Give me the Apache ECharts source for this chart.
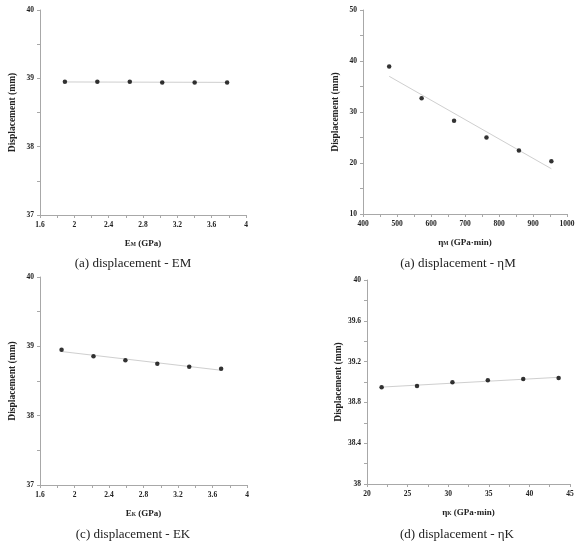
<!DOCTYPE html>
<html><head><meta charset="utf-8">
<script src="https://cdn.jsdelivr.net/npm/echarts@6/dist/echarts.min.js"></script>
<style>html,body{margin:0;padding:0;background:#fff}#c{width:580px;height:550px}</style>
</head><body><div id="c"></div>
<script>
// Panel (a) displacement - EM
const emX = [1.89, 2.268, 2.646, 3.024, 3.402, 3.78];
const emY = [38.95, 38.95, 38.95, 38.94, 38.94, 38.94];
const emFit = [[1.89, 38.947], [3.78, 38.941]];
// Panel (a) displacement - ηM
const etaMX = [477, 572.4, 667.8, 763.2, 858.6, 954];
const etaMY = [38.94, 32.72, 28.27, 24.99, 22.44, 20.34];
const etaMFit = [[477, 37.0], [954, 18.87]];
// Panel (c) displacement - EK
const ekX = [1.85, 2.22, 2.59, 2.96, 3.33, 3.70];
const ekY = [38.949, 38.858, 38.80, 38.747, 38.704, 38.675];
const ekFit = [[1.85, 38.925], [3.70, 38.655]];
// Panel (d) displacement - ηK
const etaKX = [21.8, 26.16, 30.52, 34.88, 39.24, 43.6];
const etaKY = [38.948, 38.961, 38.997, 39.016, 39.029, 39.039];
const etaKFit = [[21.8, 38.950], [43.6, 39.046]];

const captions = ['(a) displacement - EM', '(a) displacement - \u03B7M', '(c) displacement - EK', '(d) displacement - \u03B7K'];
const xNames = ['E{s|M} (GPa)', '\u03B7{s|M} (GPa\u00B7min)', 'E{s|K} (GPa)', '\u03B7{s|K} (GPa\u00B7min)'];
const yName = 'Displacement (mm)';
const xRanges = [[1.6, 4, 0.4], [400, 1000, 100], [1.6, 4, 0.4], [20, 45, 5]];
const yRanges = [[37, 40, 1], [10, 50, 10], [37, 40, 1], [38, 40, 0.4]];

const grids = [
  {left: 40, top: 10, width: 206, height: 205},
  {left: 363, top: 10, width: 204, height: 204},
  {left: 40, top: 277, width: 207, height: 208},
  {left: 367, top: 280, width: 203, height: 204}
];
const capPos = [[128, 252], [453, 252], [128, 523], [452, 523]];

const serif = '"Liberation Serif", "DejaVu Serif", serif';
const axisColor = '#a8a8a8';
const fmt = v => String(Math.round(v * 100) / 100);
const labelStyle = {fontFamily: serif, fontWeight: 'bold', fontSize: 7.5, color: '#222', formatter: fmt};

const xAxes = xRanges.map((r, i) => ({
  type: 'value', gridIndex: i, min: r[0], max: r[1], interval: r[2],
  name: xNames[i], nameLocation: 'middle', nameGap: 24,
  nameTextStyle: {fontFamily: serif, fontWeight: 'bold', fontSize: 9, color: '#222',
    rich: {s: {fontFamily: serif, fontWeight: 'bold', fontSize: 5.5, color: '#222', padding: [3, 0, 0, 0]}}},
  axisLine: {show: true, lineStyle: {color: axisColor, width: 1}},
  axisTick: {show: true, inside: false, length: 3, lineStyle: {color: axisColor}},
  minorTick: {show: true, splitNumber: 2, length: 3, lineStyle: {color: axisColor}},
  axisLabel: Object.assign({margin: 6}, labelStyle),
  splitLine: {show: false}
}));
const yAxes = yRanges.map((r, i) => ({
  type: 'value', gridIndex: i, min: r[0], max: r[1], interval: r[2],
  name: yName, nameLocation: 'middle', nameGap: 22, nameRotate: 90,
  nameTextStyle: {fontFamily: serif, fontWeight: 'bold', fontSize: 9.5, color: '#222'},
  axisLine: {show: true, lineStyle: {color: axisColor, width: 1}},
  axisTick: {show: true, inside: false, length: 3, lineStyle: {color: axisColor}},
  minorTick: {show: true, splitNumber: 2, length: 3, lineStyle: {color: axisColor}},
  axisLabel: Object.assign({margin: 6}, labelStyle),
  splitLine: {show: false}
}));

const xs = [emX, etaMX, ekX, etaKX];
const ys = [emY, etaMY, ekY, etaKY];
const fits = [emFit, etaMFit, ekFit, etaKFit];
const series = [];
for (let i = 0; i < 4; i++) {
  series.push({
    type: 'line', xAxisIndex: i, yAxisIndex: i, data: fits[i], symbol: 'none',
    lineStyle: {color: '#cfcfcf', width: 1}, silent: true, z: 1
  });
  series.push({
    type: 'scatter', xAxisIndex: i, yAxisIndex: i,
    data: xs[i].map((x, k) => [x, ys[i][k]]),
    symbol: 'circle', symbolSize: 4.5, itemStyle: {color: '#000'}, z: 3
  });
}

const titles = captions.map((c, i) => ({
  text: c, left: capPos[i][0], top: capPos[i][1], textAlign: 'center',
  textStyle: {fontFamily: serif, fontWeight: 'normal', fontSize: 13, color: '#222'}
}));

const chart = echarts.init(document.getElementById('c'), null, {renderer: 'canvas'});
chart.setOption({
  animation: false,
  backgroundColor: '#fff',
  title: titles,
  grid: grids,
  xAxis: xAxes,
  yAxis: yAxes,
  series: series
});
</script></body></html>
